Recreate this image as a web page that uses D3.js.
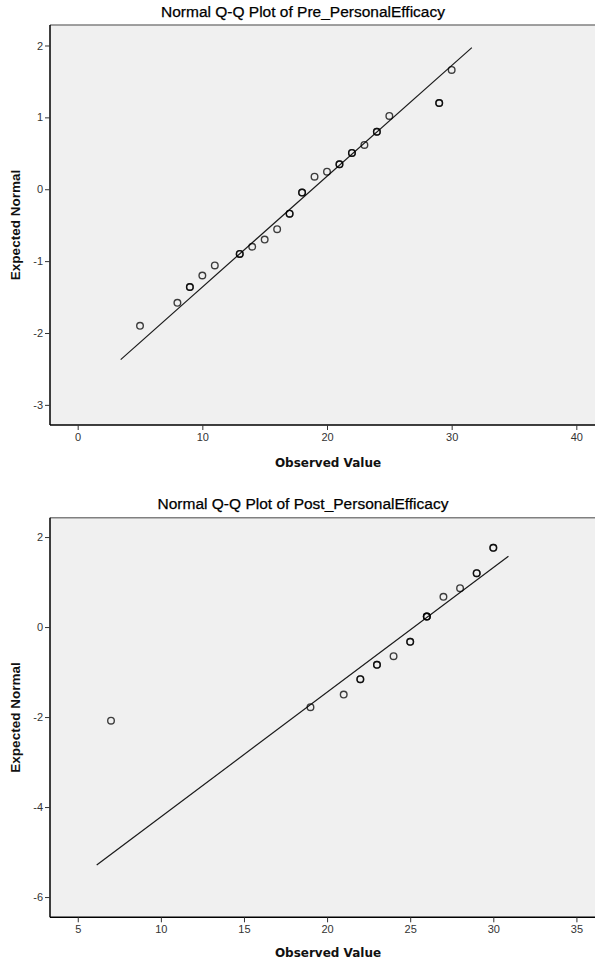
<!DOCTYPE html>
<html><head><meta charset="utf-8">
<script src="https://cdn.jsdelivr.net/npm/d3@7"></script>
<style>
html,body{margin:0;padding:0;background:#fff;}
svg{display:block;}
text{font-family:"Liberation Sans",Arial,sans-serif;}
</style></head>
<body>
<script>
// ---------- data ----------
const preTitle = "Normal Q-Q Plot of Pre_PersonalEfficacy";
const preObserved = [5, 8, 9, 10, 11, 13, 14, 15, 16, 17, 18, 19, 20, 21, 22, 23, 24, 25, 29, 30];
const preExpected = [-1.90, -1.58, -1.36, -1.20, -1.06, -0.90, -0.80, -0.70, -0.555, -0.34, -0.047, 0.175, 0.245, 0.348, 0.505, 0.616, 0.80, 1.02, 1.20, 1.66];
const preFreq = [1, 1, 2, 1, 1, 2, 1, 1, 1, 2, 2, 1, 1, 2, 2, 1, 2, 1, 2, 1];
const preLineX = [3.45, 31.62];
const preLineY = [-2.37, 1.97];
const preXTicks = [0, 10, 20, 30, 40];
const preYTicks = [-3, -2, -1, 0, 1, 2];
const preXDomain = [-2.22, 42.3];
const preYDomain = [-3.28, 2.285];

const postTitle = "Normal Q-Q Plot of Post_PersonalEfficacy";
const postObserved = [7, 19, 21, 22, 23, 24, 25, 26, 27, 28, 29, 30];
const postExpected = [-2.08, -1.78, -1.50, -1.158, -0.84, -0.647, -0.328, 0.235, 0.672, 0.864, 1.198, 1.76];
const postFreq = [1, 1, 1, 2, 2, 1, 2, 3, 1, 1, 2, 2];
const postLineX = [6.14, 30.91];
const postLineY = [-5.29, 1.575];
const postXTicks = [5, 10, 15, 20, 25, 30, 35];
const postYTicks = [-6, -4, -2, 0, 2];
const postXDomain = [3.33, 36.72];
const postYDomain = [-6.45, 2.43];

const xLabel = "Observed Value";
const yLabel = "Expected Normal";

// ---------- drawing ----------
const W = 595, H = 965;
const svg = d3.select("body").append("svg").attr("width", W).attr("height", H);

function panel(cfg) {
  const {title, obs, exp, freq, lx, ly, xt, yt, xd, yd, top, bottom, titleY, xLabY} = cfg;
  const left = 50, right = 605;
  const x = d3.scaleLinear().domain(xd).range([left, right]);
  const y = d3.scaleLinear().domain(yd).range([bottom, top]);
  const g = svg.append("g");

  g.append("rect").attr("x", left).attr("y", top).attr("width", right - left).attr("height", bottom - top)
    .attr("fill", "#f0f0f0");
  g.append("line").attr("x1", left).attr("x2", right).attr("y1", top).attr("y2", top)
    .attr("stroke", "#808080").attr("stroke-width", 1.5);

  const fmt = d => String(d);
  const xa = g.append("g").attr("transform", `translate(0,${bottom})`)
    .call(d3.axisBottom(x).tickValues(xt).tickFormat(fmt).tickSize(5).tickSizeOuter(0).tickPadding(3));
  const ya = g.append("g").attr("transform", `translate(${left},0)`)
    .call(d3.axisLeft(y).tickValues(yt).tickFormat(fmt).tickSize(5).tickSizeOuter(0).tickPadding(2));
  [xa, ya].forEach(a => {
    a.select(".domain").attr("stroke", "#000").attr("stroke-width", 1.5);
    a.selectAll(".tick line").attr("stroke", "#333").attr("stroke-width", 1);
    a.selectAll(".tick text").attr("fill", "#333").style("font-size", "11px")
      .style("font-family", "'Liberation Sans',Arial,sans-serif");
  });
  ya.select(".domain").attr("d", `M0,${top}V${bottom}`);
  xa.select(".domain").attr("d", `M${left},0H${right}`);

  g.append("line")
    .attr("x1", x(lx[0])).attr("y1", y(ly[0]))
    .attr("x2", x(lx[1])).attr("y2", y(ly[1]))
    .attr("stroke", "#1a1a1a").attr("stroke-width", 1.2);

  const pts = [];
  obs.forEach((o, i) => { for (let k = 0; k < freq[i]; k++) pts.push({o, e: exp[i]}); });
  g.selectAll("circle.p").data(pts).join("circle")
    .attr("cx", d => x(d.o)).attr("cy", d => y(d.e)).attr("r", 3.3)
    .attr("fill", "none").attr("stroke", "#000").attr("stroke-opacity", 0.75).attr("stroke-width", 1.4);

  g.append("text").attr("x", 303).attr("y", titleY).attr("text-anchor", "middle")
    .attr("dominant-baseline", "middle").style("font-size", "15.5px").attr("fill", "#000")
    .style("stroke", "#000").style("stroke-width", "0.25px").text(title);
  g.append("text").attr("x", 328).attr("y", xLabY).attr("text-anchor", "middle")
    .attr("dominant-baseline", "middle").style("font-size", "12px").style("font-weight", "bold")
    .style("font-family", "'DejaVu Sans',sans-serif")
    .attr("fill", "#111").text(xLabel);
  g.append("text").attr("transform", `translate(16,${(top + bottom) / 2}) rotate(-90)`)
    .attr("text-anchor", "middle").attr("dominant-baseline", "middle")
    .style("font-size", "13.5px").style("font-weight", "bold").attr("fill", "#111").text(yLabel);
}

panel({title: preTitle, obs: preObserved, exp: preExpected, freq: preFreq, lx: preLineX, ly: preLineY,
  xt: preXTicks, yt: preYTicks, xd: preXDomain, yd: preYDomain, top: 25, bottom: 425, titleY: 13, xLabY: 463});
panel({title: postTitle, obs: postObserved, exp: postExpected, freq: postFreq, lx: postLineX, ly: postLineY,
  xt: postXTicks, yt: postYTicks, xd: postXDomain, yd: postYDomain, top: 517.7, bottom: 917.3, titleY: 505, xLabY: 953});
</script>
</body></html>
